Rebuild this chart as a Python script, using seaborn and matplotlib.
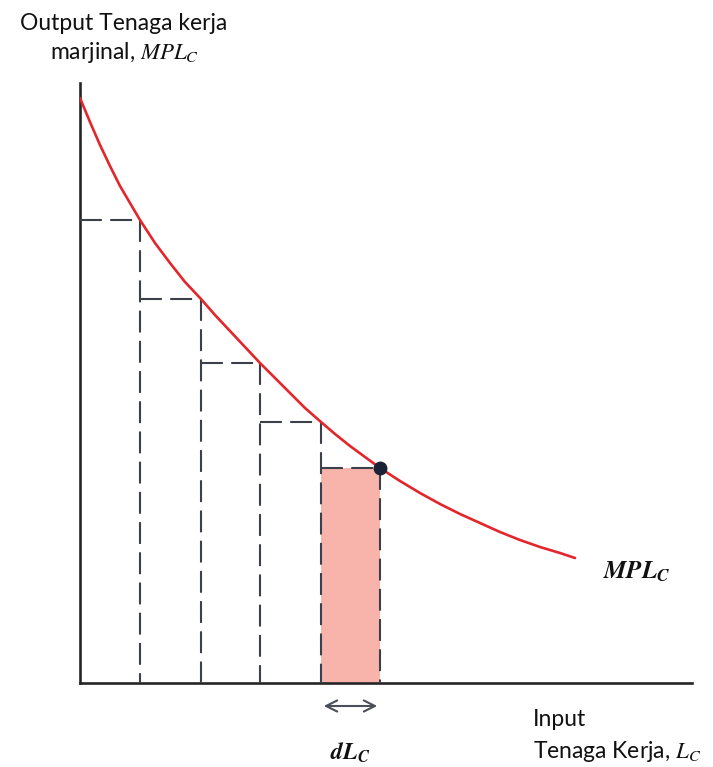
"""Kurva MPL (marginal product of labour) dengan tangga persegi panjang putus-putus."""

import matplotlib
matplotlib.use("Agg")
import matplotlib.pyplot as plt
import seaborn as sns
import pandas as pd

# curve readings (x = labour input, y = marginal output)
labour = [0, 10, 20, 30, 40, 50, 60, 75, 90, 105, 121, 135, 150, 165, 180, 195, 210,
          225, 241, 255, 270, 285, 300, 320, 340, 360, 380, 400, 420, 440, 460, 480, 495]
mpl_values = [585, 561, 538, 517, 497, 480, 463, 440, 420, 401, 384, 368, 352, 336, 320, 305, 290,
              275, 261, 249, 237, 226, 215, 202, 190, 179, 169, 160, 151, 143, 136, 130, 125]

# step corners (each dashed rectangle ends on the curve)
step_x = [60, 121, 180, 241, 300]
step_y = [463, 384, 320, 261, 215]

title_text = "Output Tenaga kerja\nmarjinal, $MPL_C$"
curve_label = r"$\mathbfit{MPL_C}$"
x_label_1 = "Input"
x_label_2 = "Tenaga Kerja, $L_C$"
dl_label = r"$\mathbfit{dL_C}$"

sns.set_style("white")
plt.rcParams["font.family"] = ["Lato", "DejaVu Sans"]
plt.rcParams["mathtext.fontset"] = "stix"

fig = plt.figure(figsize=(7.13, 7.67), dpi=100)
ax = fig.add_axes([80 / 713, 84 / 767, 612 / 713, 600 / 767])
ax.set_xlim(0, 612)
ax.set_ylim(0, 600)

dash_col = "#3b404a"
dash_kw = dict(color=dash_col, lw=1.5, dashes=(10.5, 4), zorder=3)

# shaded last rectangle (dL)
ax.bar(step_x[-2], step_y[-1], width=step_x[-1] - step_x[-2], align="edge",
       color="#f8b4aa", edgecolor="none", zorder=1)

# dashed staircase
prev_x = 0
for cx, cy in zip(step_x, step_y):
    ax.plot([prev_x, cx], [cy, cy], **dash_kw)
    ax.plot([cx, cx], [cy, 0], **dash_kw)
    prev_x = cx

df = pd.DataFrame({"labour": labour, "mpl": mpl_values})
sns.lineplot(data=df, x="labour", y="mpl", ax=ax, color="#e3262b", lw=1.9, zorder=4)
ax.plot(step_x[-1], step_y[-1], "o", color="#1b2236", ms=9, zorder=5)

for side in ["top", "right"]:
    ax.spines[side].set_visible(False)
for side in ["left", "bottom"]:
    ax.spines[side].set_linewidth(1.9)
    ax.spines[side].set_color("#262626")
ax.set_xticks([])
ax.set_yticks([])
ax.set_xlabel("")
ax.set_ylabel("")

# labels
fig.text(124 / 713, 1 - 39 / 767, title_text, ha="center", va="center",
         multialignment="center", fontsize=16.5, linespacing=1.3, color="#111111")
ax.text(523, 111, curve_label, ha="left", va="center", fontsize=18, color="#111111")
ax.text(453, -37, x_label_1, ha="left", va="center", fontsize=16.5, color="#111111")
ax.text(453, -69, x_label_2, ha="left", va="center", fontsize=16.5, color="#111111")
ax.text((step_x[-2] + step_x[-1]) / 2, -70, dl_label, ha="center", va="center",
        fontsize=17, color="#111111")
ax.annotate("", xy=(step_x[-2], -23), xytext=(step_x[-1], -23),
            arrowprops=dict(arrowstyle="<->", color="#4a4f5a", lw=1.5,
                            mutation_scale=20),
            annotation_clip=False)

fig.savefig("out.png", dpi=100, facecolor="white")
plt.close(fig)
